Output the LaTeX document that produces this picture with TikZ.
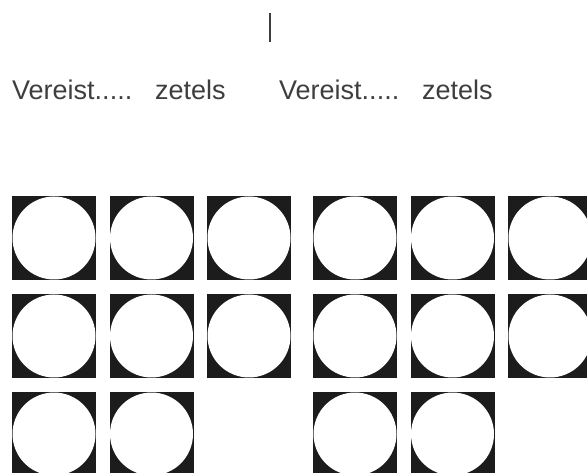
\documentclass[tikz,border=0pt]{standalone}
\usepackage{fontspec}
\setmainfont{Liberation Sans}
\usepackage{tikz}
\usepackage{xcolor}
\definecolor{labelgray}{HTML}{3E3E3E}
\definecolor{seatblack}{HTML}{1C1C1C}

\begin{document}
\begin{tikzpicture}[x=1pt,y=-1pt,line cap=round,
  seat/.style={fill=seatblack,inner sep=0pt,minimum size=84pt,
    path picture={\fill[white] (path picture bounding box.center) circle (41.5pt);}},
  label/.style={anchor=base west,inner sep=0pt,text=labelgray,font=\fontsize{27}{30}\selectfont}]
\useasboundingbox (0,0) rectangle (587,473);
\begin{scope}
\clip (0,0) rectangle (587,473);
\coordinate (cursortop) at (270,13);
\coordinate (cursorbot) at (270,42);
\draw[labelgray,line width=1.2pt,line cap=butt] (cursortop) -- (cursorbot);
\node[label] (leftlabel) at (12,100) {Vereist.....\hspace{0.85em}zetels};
\node[label] (rightlabel) at (279,100) {Vereist.....\hspace{0.85em}zetels};
% left block of seats
\foreach \r/\y in {1/238,2/336} {
  \foreach \c/\x in {1/54,2/151.5,3/249}
    \node[seat] (left\r\c) at (\x,\y) {};
}
\node[seat] (left31) at (54,434) {};
\node[seat] (left32) at (151.5,434) {};
% right block of seats
\foreach \r/\y in {1/238,2/336} {
  \foreach \c/\x in {1/355,2/452.5,3/550}
    \node[seat] (right\r\c) at (\x,\y) {};
}
\node[seat] (right31) at (355,434) {};
\node[seat] (right32) at (452.5,434) {};
\end{scope}
\end{tikzpicture}
\end{document}
